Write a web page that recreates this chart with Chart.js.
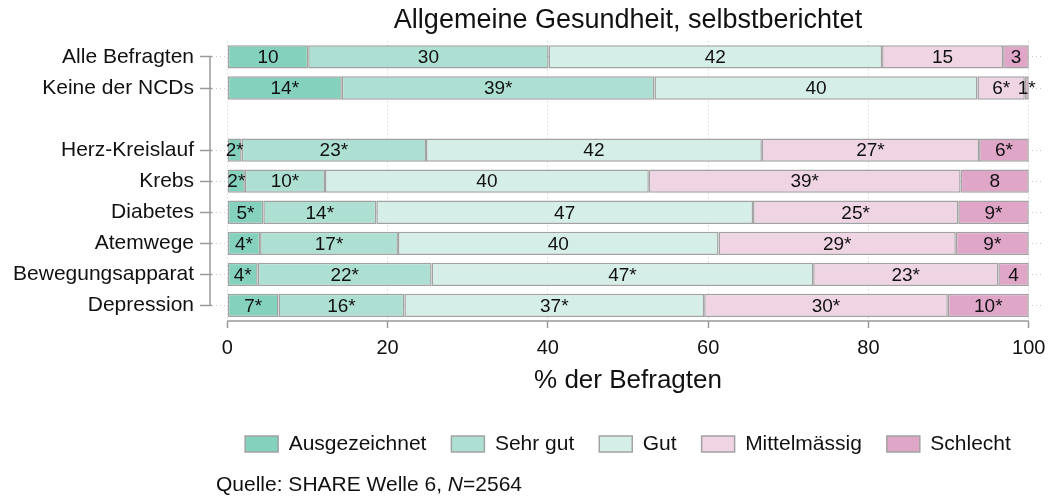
<!DOCTYPE html>
<html>
<head>
<meta charset="utf-8">
<script src="https://cdn.jsdelivr.net/npm/chart.js@4/dist/chart.umd.min.js"></script>
<style>
html,body{margin:0;padding:0;background:#ffffff;}
#wrap{width:1050px;height:497px;position:relative;}
</style>
</head>
<body>
<div id="wrap"><canvas id="c" width="1050" height="497"></canvas></div>
<script>
// ---- data ----
const categories = ['Alle Befragten', 'Keine der NCDs', '', 'Herz-Kreislauf', 'Krebs', 'Diabetes', 'Atemwege', 'Bewegungsapparat', 'Depression'];
const seriesNames = ['Ausgezeichnet', 'Sehr gut', 'Gut', 'Mittelmässig', 'Schlecht'];

const ausgezeichnet = [10.1, 14.3, null, 1.8, 2.2, 4.5, 4.1, 3.8, 6.4];
const sehrGut       = [30.0, 39.0, null, 23.0, 10.0, 14.1, 17.2, 21.7, 15.7];
const gut           = [41.6, 40.3, null, 41.9, 40.4, 47.0, 40.0, 47.6, 37.4];
const mittelmaessig = [15.1, 5.9, null, 27.1, 38.9, 25.6, 29.6, 23.1, 30.4];
const schlecht      = [3.2, 0.5, null, 6.2, 8.5, 8.8, 9.1, 3.8, 10.1];

const lblAusgezeichnet = ['10', '14*', '', '2*', '2*', '5*', '4*', '4*', '7*'];
const lblSehrGut       = ['30', '39*', '', '23*', '10*', '14*', '17*', '22*', '16*'];
const lblGut           = ['42', '40', '', '42', '40', '47', '40', '47*', '37*'];
const lblMittel        = ['15', '6*', '', '27*', '39*', '25*', '29*', '23*', '30*'];
const lblSchlecht      = ['3', '1*', '', '6*', '8', '9*', '9*', '4', '10*'];

const xTickValues = [0, 20, 40, 60, 80, 100];
const titleText = 'Allgemeine Gesundheit, selbstberichtet';
const xTitleText = '% der Befragten';
const sourcePrefix = 'Quelle: SHARE Welle 6, ';
const sourceN = 'N';
const sourceSuffix = '=2564';

// ---- styling ----
const fills = ['#84D1BD', '#ADE0D3', '#D6EEE8', '#EFD4E3', '#DFA6C8'];
const borderGray = '#a2a2a2';
const axisGray = '#9a9a9a';
const gridGray = '#c8c8c8';
const textColor = '#111111';
const FONT = "'Liberation Sans', Arial, Helvetica, sans-serif";
Chart.defaults.font.family = FONT;
Chart.defaults.color = textColor;

const values = [ausgezeichnet, sehrGut, gut, mittelmaessig, schlecht];
const valueLabels = [lblAusgezeichnet, lblSehrGut, lblGut, lblMittel, lblSchlecht];
const GAP_INDEX = categories.indexOf('');

const datasets = seriesNames.map((name, i) => ({
  label: name,
  data: values[i],
  backgroundColor: fills[i],
  borderColor: borderGray,
  borderWidth: 1.5,
  borderSkipped: false,
  categoryPercentage: 1.0,
  barPercentage: 0.75
}));

const valueLabelPlugin = {
  id: 'valueLabels',
  afterDatasetsDraw(chart) {
    const ctx = chart.ctx;
    ctx.save();
    ctx.font = '19px ' + FONT;
    ctx.fillStyle = textColor;
    ctx.textAlign = 'center';
    ctx.textBaseline = 'middle';
    chart.data.datasets.forEach((ds, i) => {
      const meta = chart.getDatasetMeta(i);
      meta.data.forEach((bar, j) => {
        const t = valueLabels[i][j];
        if (!t) return;
        const p = bar.getProps(['x', 'y', 'base'], true);
        ctx.fillText(t, (p.x + p.base) / 2, p.y + 1);
      });
    });
    ctx.restore();
  }
};

const framePlugin = {
  id: 'frame',
  afterDraw(chart) {
    const ctx = chart.ctx;
    const xs = chart.scales.x, ys = chart.scales.y, ca = chart.chartArea;
    ctx.save();
    // x axis line from 0 to 100
    ctx.strokeStyle = axisGray;
    ctx.lineWidth = 1.5;
    ctx.beginPath();
    ctx.moveTo(xs.getPixelForValue(xTickValues[0]), ca.bottom);
    ctx.lineTo(xs.getPixelForValue(xTickValues[xTickValues.length - 1]), ca.bottom);
    ctx.stroke();
    // y bracket from first to last category
    const bx = ca.left - 2;
    ctx.beginPath();
    ctx.moveTo(bx, ys.getPixelForValue(0));
    ctx.lineTo(bx, ys.getPixelForValue(categories.length - 1));
    ctx.stroke();
    // source note
    ctx.fillStyle = textColor;
    ctx.textBaseline = 'alphabetic';
    ctx.textAlign = 'left';
    let x = 216, y = 491;
    ctx.font = '21px ' + FONT;
    ctx.fillText(sourcePrefix, x, y);
    x += ctx.measureText(sourcePrefix).width;
    ctx.font = 'italic 21px ' + FONT;
    ctx.fillText(sourceN, x, y);
    x += ctx.measureText(sourceN).width;
    ctx.font = '21px ' + FONT;
    ctx.fillText(sourceSuffix, x, y);
    ctx.restore();
  }
};

new Chart(document.getElementById('c'), {
  type: 'bar',
  data: { labels: categories, datasets },
  options: {
    responsive: false,
    devicePixelRatio: 1,
    animation: false,
    indexAxis: 'y',
    layout: { padding: { left: 0, right: 6, top: 0, bottom: 32.5 } },
    scales: {
      x: {
        type: 'linear',
        stacked: true,
        min: -1.9,
        max: 101.9,
        afterBuildTicks: (scale) => { scale.ticks = xTickValues.map(v => ({ value: v })); },
        afterFit: (scale) => { scale.height = 87.5; scale.paddingLeft = 0; scale.paddingRight = 0; },
        grid: {
          color: gridGray,
          lineWidth: 1,
          borderDash: [1, 3],
          tickLength: 7,
          tickColor: axisGray,
          tickWidth: 1.5,
          tickBorderDash: []
        },
        border: { display: false, dash: [1, 3] },
        ticks: { font: { size: 20 }, color: textColor, padding: 8, maxRotation: 0 },
        title: {
          display: true,
          text: xTitleText,
          font: { size: 26 },
          color: textColor,
          padding: { top: 0, bottom: 12 }
        }
      },
      y: {
        type: 'category',
        stacked: true,
        afterFit: (scale) => { scale.width = 212; },
        grid: {
          offset: false,
          color: (c) => (c.index === GAP_INDEX ? 'rgba(0,0,0,0)' : gridGray),
          lineWidth: 1,
          borderDash: [1, 3],
          tickLength: 12,
          tickColor: (c) => (c.index === GAP_INDEX ? 'rgba(0,0,0,0)' : axisGray),
          tickWidth: 1.5,
          tickBorderDash: []
        },
        border: { display: false, dash: [1, 3] },
        ticks: { font: { size: 21 }, color: textColor, padding: 6, autoSkip: false }
      }
    },
    plugins: {
      title: {
        display: true,
        text: titleText,
        fullSize: false,
        font: { size: 27, weight: 'normal' },
        color: textColor,
        padding: { top: 4, bottom: 5 }
      },
      legend: {
        display: true,
        position: 'bottom',
        fullSize: false,
        labels: {
          boxWidth: 33,
          boxHeight: 16,
          padding: 25,
          font: { size: 21 },
          color: textColor
        }
      },
      tooltip: { enabled: false }
    }
  },
  plugins: [valueLabelPlugin, framePlugin]
});
</script>
</body>
</html>
